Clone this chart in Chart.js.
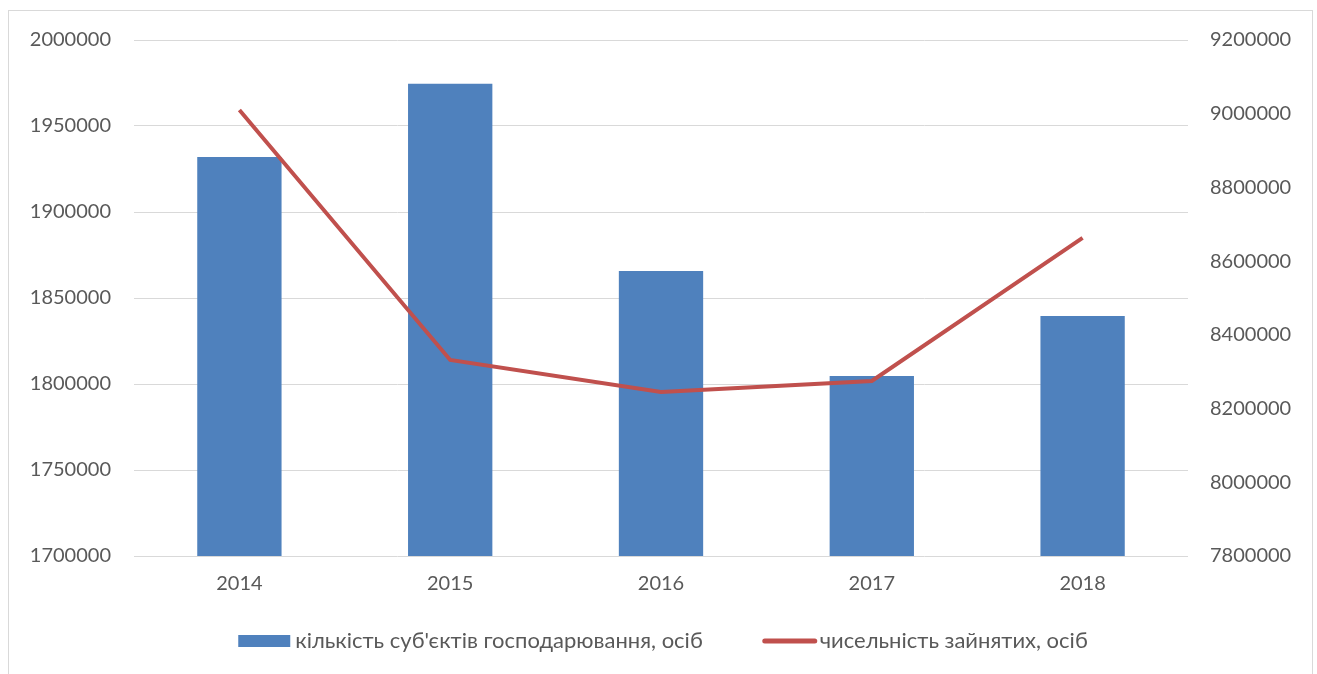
<!DOCTYPE html>
<html>
<head>
<meta charset="utf-8">
<script src="https://cdn.jsdelivr.net/npm/chart.js@4"></script>
<style>
  body { margin: 0; background: #fff; overflow: hidden; }
  #wrap {
    position: absolute; left: 8px; top: 10px;
    width: 1305px; height: 668px;
    border: 1px solid #d9d9d9; box-sizing: border-box;
  }
</style>
</head>
<body>
<div id="wrap"><canvas id="chart"></canvas></div>
<script>
const years = ["2014", "2015", "2016", "2017", "2018"];
const subjects = [1932000, 1974500, 1865700, 1804700, 1839500];
const employed = [9010000, 8332000, 8245000, 8275000, 8663000];

const subjectsLabel = "кількість суб'єктів господарювання, осіб";
const employedLabel = "чисельність зайнятих, осіб";

const textColor = "#595959";
const gridColor = "#d9d9d9";
const fontFamily = "Lato, 'Open Sans', sans-serif";

// legend drawn by hand so the spacing matches the original
const bottomLegend = {
  id: "bottomLegend",
  afterDraw(chart) {
    const c = chart.ctx;
    const items = [chart.data.datasets[1], chart.data.datasets[0]];
    c.save();
    c.font = "22px " + fontFamily;
    c.textBaseline = "middle";
    const boxW = 52, gap = 5, between = 60;
    let total = 0;
    items.forEach((ds, i) => {
      total += boxW + gap + c.measureText(ds.label).width;
      if (i > 0) total += between;
    });
    let x = (chart.chartArea.left + chart.chartArea.right) / 2 - total / 2 + 2;
    const y = 630;
    items.forEach(ds => {
      if (ds.type === "bar") {
        c.fillStyle = ds.backgroundColor;
        c.fillRect(x, y - 6, boxW, 12);
      } else {
        c.strokeStyle = ds.borderColor;
        c.lineWidth = 5;
        c.lineCap = "round";
        c.beginPath();
        c.moveTo(x + 2, y);
        c.lineTo(x + boxW, y);
        c.stroke();
      }
      x += boxW + gap;
      c.fillStyle = textColor;
      c.fillText(ds.label, x, y);
      x += c.measureText(ds.label).width + between;
    });
    c.restore();
  }
};

// y axes: fixed width, no extra space above the top tick
const fitY = w => s => { s.width = w; s.paddingTop = 0; };

const ctx = document.getElementById("chart").getContext("2d");
new Chart(ctx, {
  data: {
    labels: years,
    datasets: [
      {
        type: "line",
        label: employedLabel,
        data: employed,
        yAxisID: "y1",
        borderColor: "#c0504d",
        backgroundColor: "#c0504d",
        borderWidth: 4,
        pointRadius: 0,
        tension: 0,
        order: 0
      },
      {
        type: "bar",
        label: subjectsLabel,
        data: subjects,
        yAxisID: "y",
        backgroundColor: "#4f81bd",
        borderWidth: 0,
        barPercentage: 0.4,
        categoryPercentage: 1,
        order: 1
      }
    ]
  },
  options: {
    responsive: true,
    maintainAspectRatio: false,
    animation: false,
    layout: { padding: { left: 21, right: 19, top: 29, bottom: 65 } },
    plugins: {
      tooltip: { enabled: false },
      legend: { display: false }
    },
    scales: {
      x: {
        grid: { display: false, drawTicks: false },
        border: { display: false },
        ticks: { color: textColor, font: { family: fontFamily, size: 20 }, padding: 16 }
      },
      y: {
        position: "left",
        min: 1700000,
        max: 2000000,
        afterFit: fitY(104),
        grid: { color: gridColor, lineWidth: 1, drawTicks: false },
        border: { display: false },
        ticks: {
          stepSize: 50000, color: textColor, padding: 23,
          font: { family: fontFamily, size: 20 },
          callback: v => String(v)
        }
      },
      y1: {
        position: "right",
        min: 7800000,
        max: 9200000,
        afterFit: fitY(105),
        grid: { display: false, drawTicks: false },
        border: { display: false },
        ticks: {
          stepSize: 200000, color: textColor, padding: 22,
          font: { family: fontFamily, size: 20 },
          callback: v => String(v)
        }
      }
    }
  },
  plugins: [bottomLegend]
});
</script>
</body>
</html>
